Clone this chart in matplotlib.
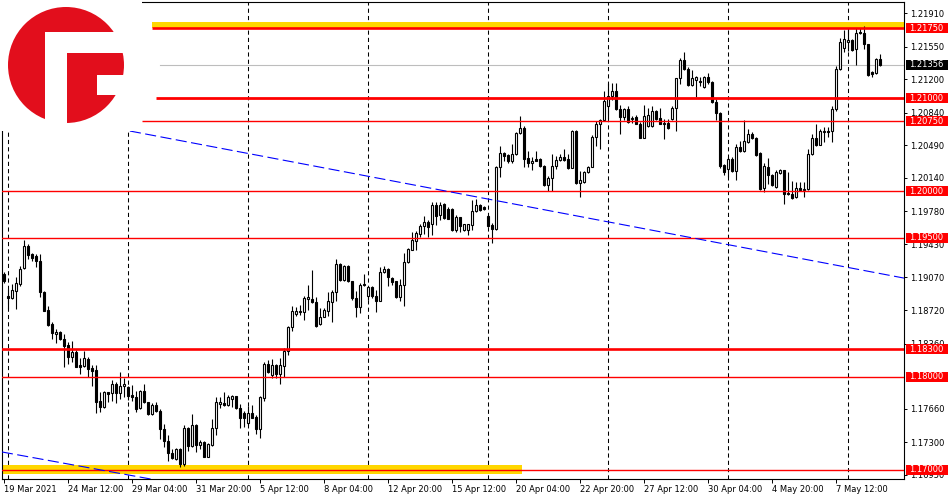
import matplotlib
matplotlib.use('Agg')
import matplotlib.pyplot as plt
import matplotlib.transforms as mtransforms
from matplotlib.patches import Circle, Rectangle

# EURUSD H4, one value per candle (index 0 = 19 Mar 2021 20:00)
opens = [
    1.19106, 1.18870, 1.18845, 1.18927, 1.18999, 1.19167, 1.19411, 1.19321, 1.19296, 1.19242,
    1.18909, 1.18720, 1.18569, 1.18462, 1.18483, 1.18405, 1.18344, 1.18219, 1.18265, 1.18129,
    1.18115, 1.18193, 1.18097, 1.18075, 1.17739, 1.17674, 1.17835, 1.17825, 1.17925, 1.17832,
    1.17900, 1.17889, 1.17807, 1.17789, 1.17664, 1.17846, 1.17728, 1.17603, 1.17699, 1.17631,
    1.17442, 1.17309, 1.17180, 1.17119, 1.17227, 1.17066, 1.17452, 1.17256, 1.17488, 1.17273,
    1.17298, 1.17145, 1.17273, 1.17449, 1.17710, 1.17717, 1.17703, 1.17763, 1.17792, 1.17662,
    1.17608, 1.17503, 1.17618, 1.17575, 1.17437, 1.17774, 1.18143, 1.18017, 1.18125, 1.18027,
    1.18118, 1.18281, 1.18534, 1.18675, 1.18697, 1.18697, 1.18838, 1.18842, 1.18806, 1.18567,
    1.18650, 1.18715, 1.18806, 1.18914, 1.19211, 1.19048, 1.19193, 1.19030, 1.18849, 1.18748,
    1.19001, 1.18867, 1.18969, 1.18875, 1.18820, 1.19132, 1.19157, 1.19066, 1.19030, 1.18856,
    1.18987, 1.19240, 1.19367, 1.19465, 1.19537, 1.19627, 1.19664, 1.19650, 1.19854, 1.19747,
    1.19864, 1.19811, 1.19811, 1.19581, 1.19716, 1.19579, 1.19579, 1.19634, 1.19787, 1.19854,
    1.19829, 1.19734, 1.19634, 1.19592, 1.20255, 1.20404, 1.20386, 1.20319, 1.20397, 1.20627,
    1.20680, 1.20354, 1.20298, 1.20344, 1.20344, 1.20273, 1.20060, 1.20138, 1.20273, 1.20333,
    1.20361, 1.20344, 1.20248, 1.20645, 1.20085, 1.20095, 1.20202, 1.20262, 1.20581, 1.20716,
    1.20759, 1.20911, 1.21017, 1.21071, 1.20886, 1.20794, 1.20886, 1.20769, 1.20794, 1.20723,
    1.20574, 1.20698, 1.20698, 1.20865, 1.20780, 1.20723, 1.20734, 1.20769, 1.20893, 1.21212,
    1.21407, 1.21312, 1.21141, 1.21193, 1.21186, 1.21122, 1.21222, 1.21168, 1.20954, 1.20836,
    1.20276, 1.20240, 1.20347, 1.20215, 1.20472, 1.20426, 1.20526, 1.20615, 1.20572, 1.20408,
    1.20036, 1.20258, 1.20169, 1.20044, 1.20194, 1.20229, 1.19979, 1.19972, 1.19937, 1.20036,
    1.20008, 1.20026, 1.20401, 1.20572, 1.20497, 1.20633, 1.20650, 1.20643, 1.20883, 1.21311,
    1.21543, 1.21597, 1.21622, 1.21525, 1.21714, 1.21704, 1.21586, 1.21275, 1.21268, 1.21418,
]
highs = [
    1.19124, 1.18945, 1.18999, 1.19071, 1.19196, 1.19472, 1.19429, 1.19328, 1.19321, 1.19321,
    1.18927, 1.18766, 1.18587, 1.18516, 1.18498, 1.18462, 1.18372, 1.18390, 1.18290, 1.18204,
    1.18283, 1.18219, 1.18133, 1.18129, 1.17835, 1.17853, 1.17843, 1.17968, 1.17943, 1.18057,
    1.17989, 1.17907, 1.17918, 1.17846, 1.17861, 1.17925, 1.17735, 1.17717, 1.17728, 1.17656,
    1.17495, 1.17377, 1.17227, 1.17234, 1.17234, 1.17488, 1.17460, 1.17603, 1.17495, 1.17324,
    1.17316, 1.17288, 1.17549, 1.17789, 1.17782, 1.17835, 1.17807, 1.17807, 1.17799, 1.17709,
    1.17636, 1.17691, 1.17698, 1.17589, 1.17792, 1.18161, 1.18179, 1.18198, 1.18143, 1.18205,
    1.18313, 1.18552, 1.18759, 1.18748, 1.18770, 1.18867, 1.18987, 1.19146, 1.18856, 1.18741,
    1.18741, 1.18914, 1.18940, 1.19265, 1.19229, 1.19204, 1.19204, 1.19037, 1.18929, 1.19012,
    1.19110, 1.18976, 1.18983, 1.18940, 1.19182, 1.19193, 1.19168, 1.19074, 1.19037, 1.19056,
    1.19338, 1.19392, 1.19555, 1.19573, 1.19646, 1.19736, 1.19689, 1.19882, 1.19882, 1.19882,
    1.19875, 1.19829, 1.19818, 1.19741, 1.19723, 1.19650, 1.19650, 1.19900, 1.19918, 1.19858,
    1.19837, 1.19740, 1.19652, 1.20273, 1.20485, 1.20415, 1.20397, 1.20503, 1.20638, 1.20805,
    1.20698, 1.20425, 1.20368, 1.20432, 1.20350, 1.20284, 1.20156, 1.20397, 1.20379, 1.20397,
    1.20450, 1.20397, 1.20652, 1.20652, 1.20220, 1.20220, 1.20273, 1.20602, 1.20751, 1.20769,
    1.21071, 1.21159, 1.21159, 1.21159, 1.20929, 1.20893, 1.20911, 1.20805, 1.20815, 1.20744,
    1.20922, 1.20893, 1.20911, 1.20876, 1.20893, 1.20769, 1.20769, 1.20911, 1.21219, 1.21425,
    1.21496, 1.21337, 1.21300, 1.21240, 1.21222, 1.21240, 1.21265, 1.21186, 1.20990, 1.20847,
    1.20293, 1.20365, 1.20365, 1.20508, 1.20543, 1.20765, 1.20668, 1.20633, 1.20579, 1.20418,
    1.20301, 1.20358, 1.20179, 1.20222, 1.20240, 1.20229, 1.20204, 1.20108, 1.20097, 1.20097,
    1.20097, 1.20454, 1.20615, 1.20722, 1.20668, 1.20693, 1.20693, 1.20918, 1.21347, 1.21650,
    1.21729, 1.21757, 1.21632, 1.21750, 1.21750, 1.21775, 1.21586, 1.21293, 1.21429, 1.21472,
]
lows = [
    1.19010, 1.18730, 1.18838, 1.18730, 1.18981, 1.19160, 1.19267, 1.19250, 1.19185, 1.18856,
    1.18705, 1.18551, 1.18408, 1.18362, 1.18398, 1.18111, 1.18140, 1.18158, 1.18104, 1.18032,
    1.18111, 1.18004, 1.17907, 1.17610, 1.17621, 1.17667, 1.17735, 1.17746, 1.17717, 1.17764,
    1.17782, 1.17753, 1.17746, 1.17628, 1.17656, 1.17717, 1.17596, 1.17596, 1.17621, 1.17334,
    1.17245, 1.17102, 1.17119, 1.17112, 1.17037, 1.17048, 1.17202, 1.17245, 1.17191, 1.17227,
    1.17137, 1.17137, 1.17263, 1.17377, 1.17667, 1.17692, 1.17692, 1.17673, 1.17655, 1.17455,
    1.17466, 1.17481, 1.17557, 1.17383, 1.17347, 1.17745, 1.18046, 1.17988, 1.17988, 1.17926,
    1.17998, 1.18234, 1.18494, 1.18657, 1.18668, 1.18614, 1.18722, 1.18795, 1.18541, 1.18560,
    1.18640, 1.18661, 1.18596, 1.18820, 1.19037, 1.19037, 1.19023, 1.18831, 1.18650, 1.18686,
    1.18976, 1.18831, 1.18849, 1.18694, 1.18813, 1.19121, 1.18976, 1.18994, 1.18849, 1.18820,
    1.18759, 1.19229, 1.19363, 1.19363, 1.19501, 1.19537, 1.19501, 1.19525, 1.19632, 1.19686,
    1.19704, 1.19697, 1.19568, 1.19564, 1.19564, 1.19568, 1.19525, 1.19580, 1.19775, 1.19787,
    1.19794, 1.19617, 1.19439, 1.19581, 1.20149, 1.20319, 1.20298, 1.20298, 1.20390, 1.20617,
    1.20255, 1.20255, 1.20227, 1.20319, 1.20262, 1.20049, 1.20000, 1.20000, 1.20237, 1.20326,
    1.20326, 1.20237, 1.20244, 1.20078, 1.19936, 1.20085, 1.20191, 1.20255, 1.20485, 1.20450,
    1.20751, 1.20769, 1.20982, 1.20876, 1.20610, 1.20759, 1.20734, 1.20734, 1.20716, 1.20567,
    1.20567, 1.20688, 1.20688, 1.20759, 1.20716, 1.20563, 1.20663, 1.20759, 1.20645, 1.21150,
    1.21301, 1.21134, 1.21134, 1.21015, 1.21132, 1.21107, 1.21150, 1.20943, 1.20765, 1.20251,
    1.20169, 1.20151, 1.20204, 1.20122, 1.20419, 1.20419, 1.20515, 1.20558, 1.20372, 1.20015,
    1.19990, 1.20079, 1.20051, 1.20036, 1.20186, 1.19858, 1.19954, 1.19919, 1.19929, 1.20008,
    1.19937, 1.20015, 1.20383, 1.20479, 1.20490, 1.20526, 1.20586, 1.20526, 1.20865, 1.21300,
    1.21500, 1.21507, 1.21507, 1.21357, 1.21693, 1.21525, 1.21240, 1.21229, 1.21257, 1.21347,
]
closes = [
    1.19028, 1.18849, 1.18935, 1.19006, 1.19160, 1.19411, 1.19314, 1.19278, 1.19242, 1.18909,
    1.18713, 1.18562, 1.18469, 1.18483, 1.18405, 1.18337, 1.18219, 1.18272, 1.18111, 1.18111,
    1.18201, 1.18086, 1.18068, 1.17735, 1.17674, 1.17835, 1.17818, 1.17925, 1.17828, 1.17907,
    1.17925, 1.17800, 1.17782, 1.17656, 1.17846, 1.17728, 1.17603, 1.17699, 1.17631, 1.17442,
    1.17309, 1.17180, 1.17127, 1.17227, 1.17066, 1.17452, 1.17256, 1.17488, 1.17273, 1.17298,
    1.17145, 1.17281, 1.17449, 1.17728, 1.17728, 1.17699, 1.17789, 1.17792, 1.17662, 1.17564,
    1.17564, 1.17618, 1.17564, 1.17437, 1.17781, 1.18143, 1.18053, 1.18125, 1.18035, 1.18125,
    1.18277, 1.18534, 1.18712, 1.18712, 1.18712, 1.18849, 1.18856, 1.18806, 1.18552, 1.18650,
    1.18722, 1.18813, 1.18914, 1.19211, 1.19045, 1.19193, 1.19030, 1.18849, 1.18748, 1.18994,
    1.18987, 1.18969, 1.18867, 1.18820, 1.19132, 1.19157, 1.19074, 1.19023, 1.18856, 1.18994,
    1.19240, 1.19374, 1.19472, 1.19544, 1.19627, 1.19664, 1.19617, 1.19847, 1.19732, 1.19854,
    1.19711, 1.19704, 1.19579, 1.19716, 1.19622, 1.19640, 1.19640, 1.19787, 1.19854, 1.19801,
    1.19805, 1.19624, 1.19592, 1.20255, 1.20404, 1.20376, 1.20319, 1.20397, 1.20627, 1.20680,
    1.20344, 1.20298, 1.20326, 1.20326, 1.20273, 1.20060, 1.20138, 1.20273, 1.20333, 1.20361,
    1.20333, 1.20248, 1.20645, 1.20085, 1.20113, 1.20202, 1.20262, 1.20581, 1.20716, 1.20759,
    1.20971, 1.21017, 1.21071, 1.20886, 1.20794, 1.20886, 1.20744, 1.20787, 1.20723, 1.20574,
    1.20805, 1.20812, 1.20865, 1.20769, 1.20723, 1.20734, 1.20673, 1.20893, 1.21212, 1.21407,
    1.21312, 1.21141, 1.21212, 1.21222, 1.21175, 1.21222, 1.21168, 1.20954, 1.20836, 1.20265,
    1.20204, 1.20347, 1.20215, 1.20472, 1.20426, 1.20536, 1.20615, 1.20572, 1.20383, 1.20026,
    1.20265, 1.20169, 1.20061, 1.20204, 1.20229, 1.19972, 1.19965, 1.19929, 1.20036, 1.20015,
    1.20026, 1.20401, 1.20572, 1.20490, 1.20650, 1.20650, 1.20633, 1.20883, 1.21311, 1.21597,
    1.21632, 1.21622, 1.21514, 1.21704, 1.21700, 1.21579, 1.21247, 1.21257, 1.21418, 1.21357,
]

date_labels = ['19 Mar 2021', '24 Mar 12:00', '29 Mar 04:00', '31 Mar 20:00', '5 Apr 12:00',
               '8 Apr 04:00', '12 Apr 20:00', '15 Apr 12:00', '20 Apr 04:00', '22 Apr 20:00',
               '27 Apr 12:00', '30 Apr 04:00', '4 May 20:00', '7 May 12:00']
date_pos = [0, 16, 32, 48, 64, 80, 96, 112, 128, 144, 160, 176, 192, 208]
week_starts = [1, 31, 61, 91, 121, 151, 181, 211]

# 1.18010 sits fully under the 1.18000 marker in the original, so it is left out
price_ticks = [1.21910, 1.21550, 1.21200, 1.20840, 1.20490, 1.20140, 1.19780, 1.19430,
               1.19070, 1.18720, 1.18360, 1.17660, 1.17300, 1.16950]

# horizontal levels: price, first candle index, width in points
levels = [1.2175, 1.2100, 1.2075, 1.2000, 1.1950, 1.1830, 1.1800, 1.1700]
level_from = [37, 38, 34.5, -1, -1, -1, -1, -1]
level_lw = [1.9, 2.0, 1.0, 1.0, 1.0, 1.9, 1.0, 1.0]
last_price = 1.21356

# zones (index from, index to, price low, price high)
zone_top = (37, 226, 1.21750, 1.21815)
zone_bottom = (-1, 129.6, 1.16954, 1.17054)

# trend lines (index, price)
trend_a = ([31.6, 225.2], [1.20645, 1.19063])
trend_b = ([-0.4, 40.0], [1.17194, 1.16878])

plt.rcParams['font.family'] = 'DejaVu Sans'
fig = plt.figure(figsize=(9.5, 5), dpi=100)
fig.patch.set_facecolor('white')
ax = fig.add_axes([2 / 950, 21 / 500, 902 / 950, 477 / 500])

ax.set_xlim(-0.375, 225.125)
ax.set_ylim(1.169032, 1.220323)

# week separators
for w in week_starts:
    ax.axvline(w, color='black', lw=0.75, ls=(0, (4, 3)), zorder=1)

# zones
ax.fill_between([zone_top[0], zone_top[1]], zone_top[2], zone_top[3], color='#FFD700', lw=0, zorder=2)
ax.fill_between([zone_bottom[0], zone_bottom[1]], zone_bottom[2], zone_bottom[3], color='#FFD700', lw=0, zorder=2)

# last price line
ax.plot([39, 226], [last_price, last_price], color='#BDBDBD', lw=0.8, zorder=1.5)

# candles
xs = list(range(len(opens)))
ax.vlines(xs, lows, highs, color='black', lw=0.8, zorder=3)
bottoms = [min(o, c) for o, c in zip(opens, closes)]
heights = [abs(c - o) for o, c in zip(opens, closes)]
fills = ['white' if c >= o else 'black' for o, c in zip(opens, closes)]
ax.bar(xs, heights, bottom=bottoms, width=0.5, color=fills, edgecolor='black', linewidth=0.8, zorder=4)

# levels
for p, x0, lw in zip(levels, level_from, level_lw):
    ax.plot([x0, 226], [p, p], color='#FF0000', lw=lw, zorder=5, solid_capstyle='butt')

# trend lines
ax.plot(trend_a[0], trend_a[1], color='#0000FF', lw=0.8, ls=(0, (10, 4)), zorder=5)
ax.plot(trend_b[0], trend_b[1], color='#0000FF', lw=0.8, ls=(0, (10, 4)), zorder=5)

# axes style
for s in ax.spines.values():
    s.set_linewidth(0.8)
    s.set_color('black')
ax.yaxis.tick_right()
ax.set_yticks(price_ticks)
ax.set_yticklabels(['%.5f' % v for v in price_ticks])
ax.tick_params(axis='y', length=2.5, width=0.7, pad=2, labelsize=6, colors='black')
ax.set_xticks(date_pos)
ax.set_xticklabels(date_labels, ha='left')
ax.tick_params(axis='x', length=3, width=0.7, pad=1.5, labelsize=6, colors='black')

# price labels on the right
tr = mtransforms.blended_transform_factory(ax.transAxes, ax.transData)
box_x = (906 - 2) / 902
box_w = 42 / 902
txt_x = (909 - 2) / 902
half_h = 5 / 9300
for p in levels:
    ax.add_patch(Rectangle((box_x, p - half_h), box_w, 2 * half_h, transform=tr,
                           facecolor='#FF0000', lw=0, clip_on=False, zorder=20))
    ax.text(txt_x, p, '%.5f' % p, transform=tr, color='white', fontsize=6,
            va='center', ha='left', clip_on=False, zorder=21)
ax.add_patch(Rectangle((box_x, last_price - half_h), box_w, 2 * half_h, transform=tr,
                       facecolor='black', lw=0, clip_on=False, zorder=20))
ax.text(txt_x, last_price, '%.5f' % last_price, transform=tr, color='white', fontsize=6,
        va='center', ha='left', clip_on=False, zorder=21)

# logo in the top left corner
lg = fig.add_axes([0, 1 - 131 / 500, 142 / 950, 131 / 500], zorder=10)
lg.set_xlim(0, 142)
lg.set_ylim(131, 0)
lg.set_axis_off()
lg.add_patch(Rectangle((0, 0), 142, 131, facecolor='white', lw=0))
lg.add_patch(Circle((66, 65), 58, facecolor='#E20E1C', lw=0))
lg.add_patch(Rectangle((45, 32), 22, 100, facecolor='white', lw=0))
lg.add_patch(Rectangle((45, 32), 100, 21, facecolor='white', lw=0))
lg.add_patch(Rectangle((97, 75), 50, 20, facecolor='white', lw=0))

fig.savefig('out.png', dpi=100, facecolor='white')
